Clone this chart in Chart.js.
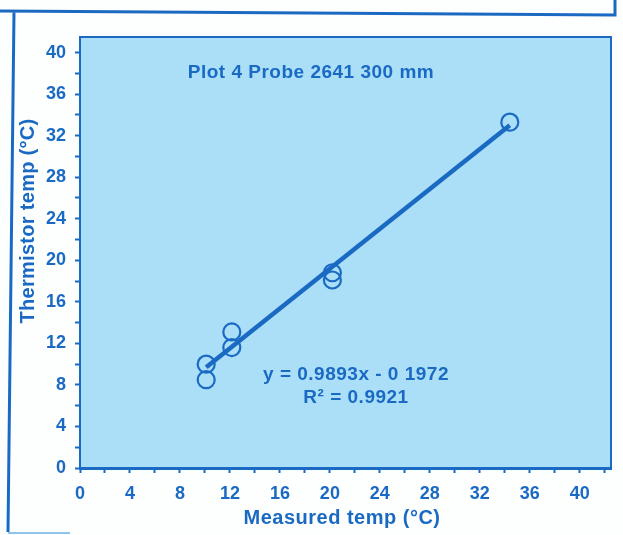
<!DOCTYPE html>
<html>
<head>
<meta charset="utf-8">
<script src="https://cdn.jsdelivr.net/npm/chart.js@4.4.0/dist/chart.umd.min.js"></script>
<style>
  html, body { margin: 0; padding: 0; background: #fdfefe; }
  #wrap { width: 623px; height: 535px; position: relative; }
</style>
</head>
<body>
<div id="wrap"><canvas id="chart" width="623" height="535"></canvas></div>
<script>
const measured   = [10.1, 10.1, 12.15, 12.15, 20.2, 20.2, 34.4]
const thermistor = [10.0, 8.5, 13.1, 11.6, 18.8, 18.1, 33.3]
const trendX = [10.1, 34.4]
const trendY = [9.7, 33.0]
const TITLE = 'Plot 4 Probe 2641 300 mm'
const EQUATION = 'y = 0.9893x - 0 1972'
const RSQ = 'R² = 0.9921'
const X_TITLE = 'Measured temp (°C)'
const Y_TITLE = 'Thermistor temp (°C)'

const INK = '#1a6ac4'
const PLOT_BG = '#aadff7'
const FONT = '"Liberation Sans", Arial, sans-serif'

function label(ctx, text, x, y, size, spacing) {
  ctx.font = 'bold ' + size + 'px ' + FONT
  ctx.letterSpacing = spacing + 'px'
  ctx.fillText(text, x, y)
}

const notes = {
  id: 'notes',
  beforeDraw(chart) {
    const { ctx, chartArea: a } = chart
    ctx.save()
    ctx.fillStyle = PLOT_BG
    ctx.fillRect(a.left, a.top, a.right - a.left, a.bottom - a.top)
    ctx.restore()
  },
  afterDraw(chart) {
    const { ctx, chartArea: a } = chart
    ctx.save()
    ctx.strokeStyle = INK
    ctx.lineWidth = 2
    ctx.beginPath()
    ctx.moveTo(a.left, a.top); ctx.lineTo(a.right, a.top); ctx.lineTo(a.right, a.bottom)
    ctx.stroke()

    // scanned page frame
    ctx.lineWidth = 3
    ctx.beginPath()
    ctx.moveTo(0, 11); ctx.lineTo(615, 15); ctx.lineTo(615, 0)
    ctx.moveTo(14, 12); ctx.lineTo(8, 532)
    ctx.stroke()
    ctx.strokeStyle = '#8fc4ea'
    ctx.lineWidth = 2
    ctx.beginPath(); ctx.moveTo(8, 533); ctx.lineTo(70, 533); ctx.stroke()

    ctx.fillStyle = INK
    ctx.textAlign = 'center'
    ctx.textBaseline = 'middle'
    label(ctx, TITLE, 311, 73, 19, 0.5)
    label(ctx, EQUATION, 356, 375, 19, 0.5)
    label(ctx, RSQ, 356, 398, 19, 0.5)
    label(ctx, X_TITLE, 342, 518, 20, 0.5)
    ctx.translate(28, 221)
    ctx.rotate(-Math.PI / 2)
    label(ctx, Y_TITLE, 0, 0, 20, 0.3)
    ctx.restore()
  }
}

const axisCommon = {
  type: 'linear',
  min: 0,
  grid: { drawOnChartArea: false, drawTicks: true, tickLength: 5, tickColor: INK, tickWidth: 2 },
  ticks: {
    stepSize: 2,
    includeBounds: false,
    autoSkip: false,
    maxRotation: 0,
    color: INK,
    font: { family: FONT, size: 18, weight: 'bold' },
    callback: v => (v % 4 === 0 ? v : '')
  }
}

new Chart(document.getElementById('chart'), {
  type: 'scatter',
  data: {
    datasets: [
      {
        data: measured.map((x, i) => ({ x, y: thermistor[i] })),
        pointStyle: 'circle',
        pointRadius: 8.5,
        pointBorderWidth: 2.2,
        pointBorderColor: INK,
        pointBackgroundColor: 'rgba(0,0,0,0)'
      },
      {
        type: 'line',
        data: trendX.map((x, i) => ({ x, y: trendY[i] })),
        borderColor: INK,
        borderWidth: 4.5,
        pointRadius: 0,
        fill: false
      }
    ]
  },
  options: {
    responsive: false,
    animation: false,
    layout: { padding: { top: 37, right: 12, left: 0, bottom: 0 } },
    plugins: { legend: { display: false }, tooltip: { enabled: false } },
    scales: {
      x: {
        ...axisCommon,
        max: 42.5,
        border: { display: true, color: INK, width: 3 },
        ticks: { ...axisCommon.ticks, padding: 10 },
        afterFit: s => { s.height = 67 }
      },
      y: {
        ...axisCommon,
        max: 41.5,
        border: { display: true, color: INK, width: 2 },
        ticks: { ...axisCommon.ticks, padding: 9 },
        afterFit: s => { s.width = 80 }
      }
    }
  },
  plugins: [notes]
})
</script>
</body>
</html>
